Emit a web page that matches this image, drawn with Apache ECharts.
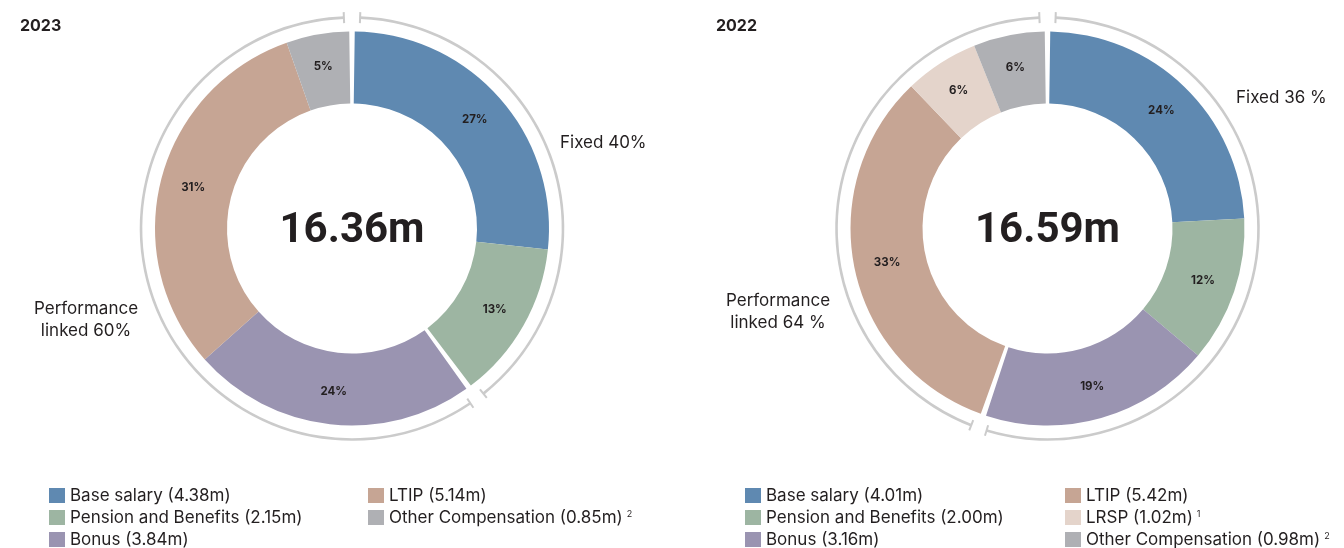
<!DOCTYPE html>
<html><head><meta charset="utf-8">
<script src="https://cdn.jsdelivr.net/npm/echarts@6/dist/echarts.min.js"></script>
<style>html,body{margin:0;padding:0;background:#fff}#c{width:1344px;height:548px}</style>
</head><body><div id="c"></div>
<script>
// ---- data ----
const years = ['2023', '2022'];
const totalLabels = ['16.36m', '16.59m'];
const categories2023 = ['Base salary', 'Pension and Benefits', 'Bonus', 'LTIP', 'Other Compensation'];
const values2023 = [4.38, 2.15, 3.84, 5.14, 0.85];
const footnotes2023 = ['', '', '', '', '2'];
const groupBreak2023 = 2;            // ring / gap break after this many slices
const groupLabels2023 = ['Fixed 40%', 'Performance\nlinked 60%'];

const categories2022 = ['Base salary', 'Pension and Benefits', 'Bonus', 'LTIP', 'LRSP', 'Other Compensation'];
const values2022 = [4.01, 2.00, 3.16, 5.42, 1.02, 0.98];
const footnotes2022 = ['', '', '', '', '1', '2'];
const groupBreak2022 = 3;
const groupLabels2022 = ['Fixed 36 %', 'Performance\nlinked 64 %'];

// ---- styles ----
const COLORS = {
  'Base salary': '#5f89b1',
  'Pension and Benefits': '#9db5a2',
  'Bonus': '#9a94b1',
  'LTIP': '#c6a594',
  'LRSP': '#e4d4cb',
  'Other Compensation': '#afb0b4'
};
const RING = '#cbcbcb';
const TXT = '#231f20';
const FONT = 'Inter';
const R_IN = 125, R_OUT = 197, R_RING = 211;
const GAP = 0.8;      // half slice gap (deg)
const RGAP = 2.2;     // half ring gap (deg)

function roundPct(vals) {
  const tot = vals.reduce((a, b) => a + b, 0);
  const raw = vals.map(v => v / tot * 100);
  const fl = raw.map(Math.floor);
  const rest = 100 - fl.reduce((a, b) => a + b, 0);
  const order = raw.map((r, i) => [r - fl[i], i]).sort((a, b) => b[0] - a[0]);
  for (let k = 0; k < rest; k++) fl[order[k][1]]++;
  return fl;
}

const series = [], graphic = [], legends = [];

function build(idx, cats, vals, brk, foots, glabels, cx, cy, legendLefts, glPos) {
  const total = vals.reduce((a, b) => a + b, 0);
  const pct = roundPct(vals);
  const names = cats.map((c, i) => c + ' (' + vals[i].toFixed(2) + 'm)');
  const items = names.map((n, i) => ({ name: n, value: vals[i], pct: pct[i], itemStyle: { color: COLORS[cats[i]] } }));
  const sumA = vals.slice(0, brk).reduce((a, b) => a + b, 0);
  const thetaB = 360 * sumA / total;   // clockwise from top
  const groups = [
    { data: items.slice(0, brk), s: 0, e: thetaB },
    { data: items.slice(brk), s: thetaB, e: 360 }
  ];
  groups.forEach(g => {
    series.push({
      type: 'pie', center: [cx, cy], radius: [R_IN, R_OUT], clockwise: true,
      startAngle: 90 - g.s - GAP, endAngle: 90 - g.e + GAP,
      avoidLabelOverlap: false, silent: true, animation: false,
      itemStyle: { borderWidth: 0 },
      label: { show: true, position: 'inside', formatter: p => p.data.pct + '%',
               color: TXT, fontFamily: FONT, fontWeight: 'bold', fontSize: 11.5 },
      labelLine: { show: false }, emphasis: { disabled: true },
      data: g.data
    });
    series.push({
      type: 'pie', center: [cx, cy], radius: [R_RING - 1.3, R_RING + 1.3], clockwise: true,
      startAngle: 90 - g.s - RGAP, endAngle: 90 - g.e + RGAP,
      silent: true, animation: false, label: { show: false }, labelLine: { show: false },
      itemStyle: { color: RING, borderWidth: 0 }, emphasis: { disabled: true },
      data: [{ name: '', value: 1 }]
    });
  });
  // ring end ticks
  [RGAP, -RGAP, thetaB - RGAP, thetaB + RGAP].forEach(t => {
    const a = t * Math.PI / 180;
    const p = r => [cx + r * Math.sin(a), cy - r * Math.cos(a)];
    const p1 = p(R_RING - 5.5), p2 = p(R_RING + 5.5);
    graphic.push({ type: 'line', silent: true,
      shape: { x1: p1[0], y1: p1[1], x2: p2[0], y2: p2[1] },
      style: { stroke: RING, lineWidth: 2 } });
  });
  // center total
  graphic.push({ type: 'text', x: cx, y: cy + 3, silent: true,
    style: { text: totalLabels[idx], fill: TXT, fontFamily: 'Roboto', fontWeight: 'bold', fontSize: 42,
      textAlign: 'center', textVerticalAlign: 'middle', align: 'center', verticalAlign: 'middle' } });
  // year title
  graphic.push({ type: 'text', x: glPos.title[0], y: glPos.title[1], silent: true,
    style: { text: years[idx], fill: TXT, fontFamily: FONT, fontWeight: 'bold', fontSize: 16,
      textAlign: 'left', textVerticalAlign: 'middle', align: 'left', verticalAlign: 'middle' } });
  // group labels
  graphic.push({ type: 'text', x: glPos.a[0], y: glPos.a[1], silent: true,
    style: { text: glabels[0], fill: TXT, fontFamily: FONT, fontSize: 17,
      textAlign: 'left', textVerticalAlign: 'middle', align: 'left', verticalAlign: 'middle' } });
  graphic.push({ type: 'text', x: glPos.b[0], y: glPos.b[1], silent: true,
    style: { text: glabels[1], fill: TXT, fontFamily: FONT, fontSize: 17, lineHeight: 22,
      textAlign: 'center', textVerticalAlign: 'middle', align: 'center', verticalAlign: 'middle' } });
  // legends
  const fmt = name => {
    const i = names.indexOf(name);
    return foots[i] ? '{a|' + name + '}{s|' + foots[i] + '}' : '{a|' + name + '}';
  };
  const cols = [names.slice(0, 3), names.slice(3)];
  cols.forEach((col, ci) => {
    legends.push({
      type: 'plain', orient: 'vertical', left: legendLefts[ci], top: 487, height: 200, padding: 0, itemGap: 5,
      itemWidth: 16, itemHeight: 15, icon: 'rect', selectedMode: false,
      data: col, formatter: fmt,
      textStyle: { color: TXT, fontFamily: FONT, fontSize: 17, lineHeight: 16,
        rich: { a: { color: TXT, fontFamily: FONT, fontSize: 17, lineHeight: 16 },
                s: { color: TXT, fontFamily: FONT, fontSize: 9, verticalAlign: 'top', lineHeight: 16, padding: [0, 0, 6, 4] } } }
    });
  });
}

build(0, categories2023, values2023, groupBreak2023, footnotes2023, groupLabels2023, 352, 228.5,
  [49, 368], { title: [20, 26], a: [560, 143], b: [86, 320] });
build(1, categories2022, values2022, groupBreak2022, footnotes2022, groupLabels2022, 1047.5, 228.5,
  [745, 1065], { title: [716, 26], a: [1236, 98], b: [778, 312] });

const chart = echarts.init(document.getElementById('c'), null, { renderer: 'canvas' });
chart.setOption({ animation: false, backgroundColor: '#fff', legend: legends, series: series, graphic: graphic });
</script></body></html>
